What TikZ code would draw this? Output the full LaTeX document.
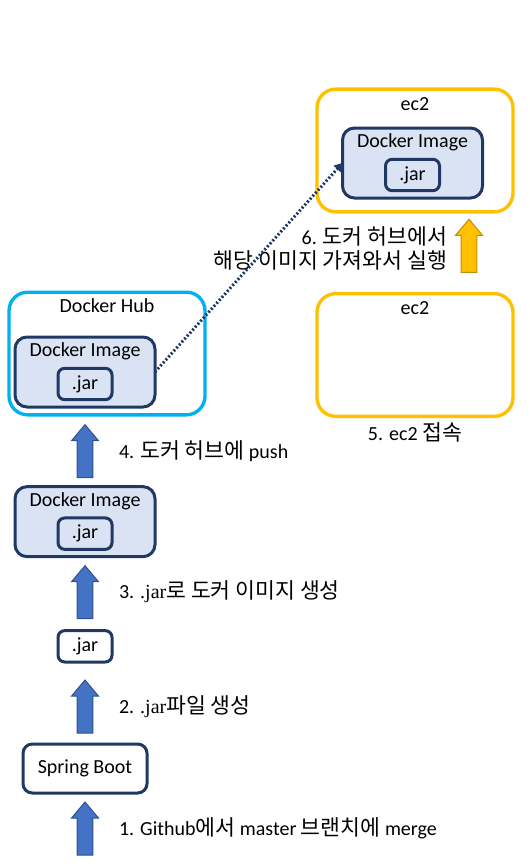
\documentclass[tikz,border=0pt]{standalone}
\usepackage{fontspec}
\setmainfont{Carlito}
\newfontfamily\kofont[Scale=1.08]{Noto Sans CJK KR}
\newfontfamily\jarserif{Liberation Serif}
\newcommand{\hangul}[1]{{\kofont #1}}
\usetikzlibrary{positioning,shapes.arrows,arrows.meta}
\definecolor{hubcyan}{HTML}{00B0F0}
\definecolor{ec2gold}{HTML}{FFC000}
\definecolor{navyline}{HTML}{203864}
\definecolor{imgfill}{HTML}{DAE3F3}
\definecolor{arrowblue}{HTML}{4472C4}
\definecolor{arrowedge}{HTML}{2F528F}
\definecolor{goldedge}{HTML}{BF9000}

\begin{document}
\begin{tikzpicture}[x=0.75pt,y=-0.75pt,
		every node/.style = {
			font=\fontsize{15}{18}\selectfont,
			inner sep=0pt, outer sep=0pt
		},
		hubbox/.style = {
			draw=hubcyan, line width=2.5pt, rounded corners=14pt,
			minimum width=147pt, minimum height=92pt
		},
		ec2box/.style = {
			draw=ec2gold, line width=2.5pt, rounded corners=14pt,
			minimum width=147pt, minimum height=92pt
		},
		imgbox/.style = {
			draw=navyline, fill=imgfill, line width=2.25pt, rounded corners=9pt,
			minimum width=105pt, minimum height=52.5pt
		},
		jarbox/.style = {
			draw=navyline, line width=2.25pt, rounded corners=5pt,
			minimum width=40.5pt, minimum height=23.5pt
		},
		plainbox/.style = {
			draw=navyline, fill=white, line width=2.25pt, rounded corners=7pt
		},
		uparrow/.style = {
			shape=single arrow, shape border rotate=90,
			draw=arrowedge, fill=arrowblue, line width=0.75pt,
			minimum width=19.5pt, minimum height=39.75pt,
			inner xsep=5.6pt, inner ysep=0pt,
			single arrow head extend=4.1pt, single arrow tip angle=80
		},
		goldarrow/.style = {
			uparrow, draw=goldedge, fill=ec2gold
		},
		steplabel/.style = {
			yshift=3.75pt
		},
		dotline/.style = {
			draw=navyline, line width=2.25pt, dash pattern=on 1.5pt off 1.5pt,
			-{Triangle[length=6pt,width=7pt]}
		}
		]
		\useasboundingbox (0,0) rectangle (529,867);

		\node [plainbox, minimum width=93pt, minimum height=36.75pt] (spring) at (85,768.5) {Spring Boot};
		\node [uparrow, below=6.75pt of spring] (up1) {};
		\node [uparrow, above=8.25pt of spring] (up2) {};
		\node [jarbox, fill=white, above=13.5pt of up2] (jar) {.jar};
		\node [uparrow, above=9pt of jar] (up3) {};
		\node [imgbox, above=6.75pt of up3] (img) {};
		\node [below=4.5pt of img.north] (imgt) {Docker Image};
		\node [jarbox, below=6pt of imgt] (imgjar) {.jar};
		\node [uparrow, above=6.75pt of img] (up4) {};

		\node [steplabel, right=25.5pt of up1.center] (lab1) {1. Github\hangul{에서} master \hangul{브랜치에} merge};
		\node [steplabel, right=25.5pt of up2.center] (lab2) {2. {\jarserif .jar}\hangul{파일 생성}};
		\node [steplabel, right=25.5pt of up3.center] (lab3) {3. {\jarserif .jar}\hangul{로 도커 이미지 생성}};
		\node [steplabel, right=25.5pt of up4.center] (lab4) {4. \hangul{도커 허브에} push};

		\node [hubbox] (hub) at (107,353.5) {};
		\node [below=4.5pt of hub.north] (hubt) {Docker Hub};
		\node [imgbox] (hubimg) at (85,372) {};
		\node [below=4.5pt of hubimg.north] (hubimgt) {Docker Image};
		\node [jarbox, below=6pt of hubimgt] (hubjar) {.jar};

		\node [ec2box] (ec2b) at (415,355) {};
		\node [below=6pt of ec2b.north] (ec2bt) {ec2};
		\node [below=5pt of ec2b] (lab5) {5. ec2 \hangul{접속}};

		\node [goldarrow] (up6) at (469,250.5) {};
		\node [align=right, left=16.5pt of up6.center, yshift=1.5pt] (lab6) {6. \hangul{도커 허브에서}\\\hangul{해당 이미지 가져와서 실행}};

		\node [ec2box] (ec2a) at (415,150.5) {};
		\node [below=6pt of ec2a.north] (ec2at) {ec2};
		\node [imgbox] (ec2img) at (412.5,163) {};
		\node [below=4.5pt of ec2img.north] (ec2imgt) {Docker Image};
		\node [jarbox, below=6pt of ec2imgt] (ec2jar) {.jar};

		\draw [dotline] (hubimg.east) -- (ec2img.west);
	\end{tikzpicture}
\end{document}
